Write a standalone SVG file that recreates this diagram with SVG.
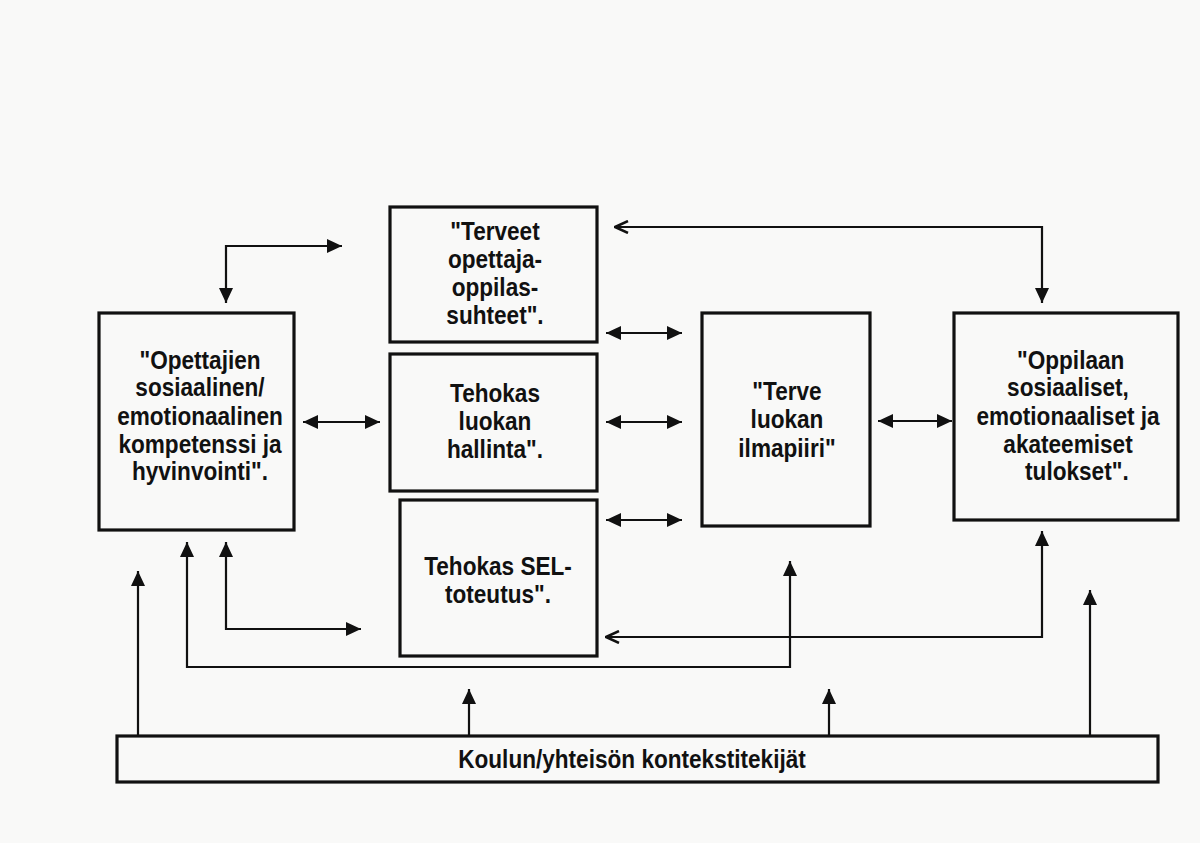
<svg xmlns="http://www.w3.org/2000/svg" width="1200" height="843" viewBox="0 0 1200 843">
<style>
.box{fill:none;stroke:#111;stroke-width:3.2}
.t{font-family:"Liberation Sans",Arial,sans-serif;font-weight:bold;font-size:25.5px;fill:#111;text-anchor:middle}
.c{fill:none;stroke:#111;stroke-width:2.2}
</style>
<defs>
<marker id="f" viewBox="0 0 15 14" refX="15" refY="7" markerWidth="15" markerHeight="14" markerUnits="userSpaceOnUse" orient="auto-start-reverse">
<path d="M0,0 L15,7 L0,14 z" fill="#111"/>
</marker>
<marker id="o" viewBox="0 0 15 14" refX="14" refY="7" markerWidth="15" markerHeight="14" markerUnits="userSpaceOnUse" orient="auto-start-reverse">
<path d="M1,1 L14,7 L1,13" fill="none" stroke="#111" stroke-width="2.5" stroke-linejoin="miter"/>
</marker>
</defs>
<rect width="1200" height="843" fill="#f9f9f8"/>
<g id="node-teacher">
<rect class="box" x="99" y="313" width="195" height="217"/>
<text class="t" transform="matrix(0.886 0 0 1 200 0)"><tspan x="0" y="369">"Opettajien</tspan><tspan x="0" y="396.5">sosiaalinen/</tspan><tspan x="0" y="425">emotionaalinen</tspan><tspan x="0" y="453">kompetenssi ja</tspan><tspan x="0" y="480.5">hyvinvointi".</tspan></text>
</g>
<g id="node-relations">
<rect class="box" x="390" y="207" width="207" height="135"/>
<text class="t" transform="matrix(0.886 0 0 1 495 0)"><tspan x="0" y="240">"Terveet</tspan><tspan x="0" y="268">opettaja-</tspan><tspan x="0" y="296">oppilas-</tspan><tspan x="0" y="324">suhteet".</tspan></text>
</g>
<g id="node-management">
<rect class="box" x="390" y="354" width="207" height="137"/>
<text class="t" transform="matrix(0.886 0 0 1 495 0)"><tspan x="0" y="402">Tehokas</tspan><tspan x="0" y="430">luokan</tspan><tspan x="0" y="458">hallinta".</tspan></text>
</g>
<g id="node-sel">
<rect class="box" x="400" y="500" width="197" height="156"/>
<text class="t" transform="matrix(0.886 0 0 1 498 0)"><tspan x="0" y="575">Tehokas SEL-</tspan><tspan x="0" y="603">toteutus".</tspan></text>
</g>
<g id="node-climate">
<rect class="box" x="702" y="313" width="168" height="213"/>
<text class="t" transform="matrix(0.886 0 0 1 787 0)"><tspan x="0" y="400">"Terve</tspan><tspan x="0" y="428">luokan</tspan><tspan x="0" y="457">ilmapiiri"</tspan></text>
</g>
<g id="node-outcomes">
<rect class="box" x="954" y="313" width="224" height="207"/>
<text class="t" transform="matrix(0.886 0 0 1 1068 0)"><tspan x="3" y="369">"Oppilaan</tspan><tspan x="0" y="396.5">sosiaaliset,</tspan><tspan x="0" y="425">emotionaaliset ja</tspan><tspan x="0" y="453">akateemiset</tspan><tspan x="10" y="480.5">tulokset".</tspan></text>
</g>
<g id="node-context">
<rect class="box" x="117" y="736" width="1041" height="46"/>
<text class="t" transform="matrix(0.886 0 0 1 632 0)" x="0" y="768">Koulun/yhteisön kontekstitekijät</text>
</g>
<g id="connectors">
<path class="c" d="M226,303 V246 H342" marker-start="url(#f)" marker-end="url(#f)"/>
<path class="c" d="M303,422 H380" marker-start="url(#f)" marker-end="url(#f)"/>
<path class="c" d="M606,333 H682" marker-start="url(#f)" marker-end="url(#f)"/>
<path class="c" d="M606,422 H682" marker-start="url(#f)" marker-end="url(#f)"/>
<path class="c" d="M606,520 H682" marker-start="url(#f)" marker-end="url(#f)"/>
<path class="c" d="M878,421 H952" marker-start="url(#f)" marker-end="url(#f)"/>
<path class="c" d="M615,227 H1042 V303" marker-start="url(#o)" marker-end="url(#f)"/>
<path class="c" d="M1042,531 V637 H606" marker-start="url(#f)" marker-end="url(#o)"/>
<path class="c" d="M187,542 V667 H790 V561" marker-start="url(#f)" marker-end="url(#f)"/>
<path class="c" d="M226,542 V629 H361" marker-start="url(#f)" marker-end="url(#f)"/>
<path class="c" d="M138,736 V571" marker-end="url(#f)"/>
<path class="c" d="M469,736 V689" marker-end="url(#f)"/>
<path class="c" d="M829,736 V689" marker-end="url(#f)"/>
<path class="c" d="M1090,736 V590" marker-end="url(#f)"/>
</g>
</svg>
